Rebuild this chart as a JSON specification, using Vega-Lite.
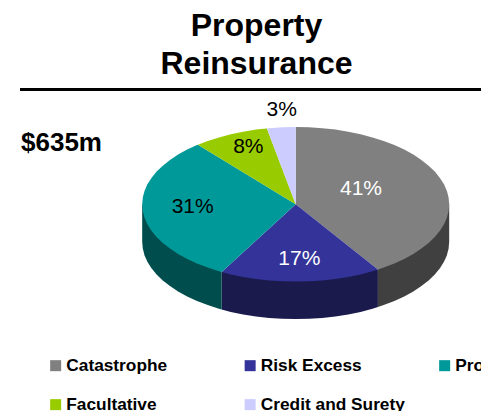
{"$schema":"https://vega.github.io/schema/vega-lite/v6.json","width":481,"height":411,"padding":0,"autosize":{"type":"none"},"background":"white",
"title":{"text":["Property","Reinsurance"],"font":"Liberation Sans","fontSize":32,"fontWeight":"bold","color":"black","lineHeight":38,"anchor":"middle","dx":16,"dy":110,"baseline":"alphabetic"},
"config":{"view":{"stroke":null}},
"datasets":{
"top":[
{"s":"Catastrophe","i":0,"x":295.7,"y":204.3},{"s":"Catastrophe","i":1,"x":295.7,"y":127.0},{"s":"Catastrophe","i":2,"x":309.1,"y":127.3},{"s":"Catastrophe","i":3,"x":322.3,"y":128.2},{"s":"Catastrophe","i":4,"x":335.4,"y":129.6},{"s":"Catastrophe","i":5,"x":348.2,"y":131.7},{"s":"Catastrophe","i":6,"x":360.6,"y":134.2},{"s":"Catastrophe","i":7,"x":372.45,"y":137.4},{"s":"Catastrophe","i":8,"x":383.7,"y":141.0},{"s":"Catastrophe","i":9,"x":394.4,"y":145.1},{"s":"Catastrophe","i":10,"x":404.2,"y":149.6},{"s":"Catastrophe","i":11,"x":413.3,"y":154.6},{"s":"Catastrophe","i":12,"x":421.4,"y":160.0},{"s":"Catastrophe","i":13,"x":428.6,"y":165.65},{"s":"Catastrophe","i":14,"x":434.8,"y":171.6},{"s":"Catastrophe","i":15,"x":439.9,"y":177.9},{"s":"Catastrophe","i":16,"x":444.0,"y":184.3},{"s":"Catastrophe","i":17,"x":446.9,"y":190.9},{"s":"Catastrophe","i":18,"x":448.6,"y":197.6},{"s":"Catastrophe","i":19,"x":449.2,"y":204.3},{"s":"Catastrophe","i":20,"x":448.6,"y":211.0},{"s":"Catastrophe","i":21,"x":446.9,"y":217.7},{"s":"Catastrophe","i":22,"x":444.0,"y":224.3},{"s":"Catastrophe","i":23,"x":439.9,"y":230.7},{"s":"Catastrophe","i":24,"x":434.8,"y":237.0},{"s":"Catastrophe","i":25,"x":428.6,"y":242.95},{"s":"Catastrophe","i":26,"x":421.4,"y":248.6},{"s":"Catastrophe","i":27,"x":413.3,"y":254.0},{"s":"Catastrophe","i":28,"x":404.2,"y":259.0},{"s":"Catastrophe","i":29,"x":394.4,"y":263.5},{"s":"Catastrophe","i":30,"x":383.7,"y":267.6},{"s":"Catastrophe","i":31,"x":377.9,"y":269.6},
{"s":"Risk Excess","i":0,"x":295.7,"y":204.3},{"s":"Risk Excess","i":1,"x":377.9,"y":269.6},{"s":"Risk Excess","i":2,"x":372.45,"y":271.25},{"s":"Risk Excess","i":3,"x":360.6,"y":274.4},{"s":"Risk Excess","i":4,"x":348.2,"y":276.9},{"s":"Risk Excess","i":5,"x":335.4,"y":279.0},{"s":"Risk Excess","i":6,"x":322.3,"y":280.4},{"s":"Risk Excess","i":7,"x":309.1,"y":281.3},{"s":"Risk Excess","i":8,"x":295.7,"y":281.6},{"s":"Risk Excess","i":9,"x":282.3,"y":281.3},{"s":"Risk Excess","i":10,"x":269.1,"y":280.4},{"s":"Risk Excess","i":11,"x":256.0,"y":279.0},{"s":"Risk Excess","i":12,"x":243.2,"y":276.9},{"s":"Risk Excess","i":13,"x":230.8,"y":274.4},{"s":"Risk Excess","i":14,"x":221.7,"y":272.0},
{"s":"Pro Rata","i":0,"x":295.7,"y":204.3},{"s":"Pro Rata","i":1,"x":221.7,"y":272.0},{"s":"Pro Rata","i":2,"x":218.95,"y":271.25},{"s":"Pro Rata","i":3,"x":207.7,"y":267.6},{"s":"Pro Rata","i":4,"x":197.0,"y":263.5},{"s":"Pro Rata","i":5,"x":187.2,"y":259.0},{"s":"Pro Rata","i":6,"x":178.1,"y":254.0},{"s":"Pro Rata","i":7,"x":170.0,"y":248.6},{"s":"Pro Rata","i":8,"x":162.8,"y":242.95},{"s":"Pro Rata","i":9,"x":156.6,"y":237.0},{"s":"Pro Rata","i":10,"x":151.5,"y":230.7},{"s":"Pro Rata","i":11,"x":147.4,"y":224.3},{"s":"Pro Rata","i":12,"x":144.5,"y":217.7},{"s":"Pro Rata","i":13,"x":142.8,"y":211.0},{"s":"Pro Rata","i":14,"x":142.2,"y":204.3},{"s":"Pro Rata","i":15,"x":142.8,"y":197.6},{"s":"Pro Rata","i":16,"x":144.5,"y":190.9},{"s":"Pro Rata","i":17,"x":147.4,"y":184.3},{"s":"Pro Rata","i":18,"x":151.5,"y":177.9},{"s":"Pro Rata","i":19,"x":156.6,"y":171.6},{"s":"Pro Rata","i":20,"x":162.8,"y":165.65},{"s":"Pro Rata","i":21,"x":170.0,"y":160.0},{"s":"Pro Rata","i":22,"x":178.1,"y":154.6},{"s":"Pro Rata","i":23,"x":187.2,"y":149.6},{"s":"Pro Rata","i":24,"x":197.0,"y":145.1},{"s":"Pro Rata","i":25,"x":197.9,"y":144.7},
{"s":"Facultative","i":0,"x":295.7,"y":204.3},{"s":"Facultative","i":1,"x":197.9,"y":144.7},{"s":"Facultative","i":2,"x":207.7,"y":141.0},{"s":"Facultative","i":3,"x":218.95,"y":137.4},{"s":"Facultative","i":4,"x":230.8,"y":134.2},{"s":"Facultative","i":5,"x":243.2,"y":131.7},{"s":"Facultative","i":6,"x":256.0,"y":129.6},{"s":"Facultative","i":7,"x":266.9,"y":128.4},
{"s":"Credit and Surety","i":0,"x":295.7,"y":204.3},{"s":"Credit and Surety","i":1,"x":266.9,"y":128.4},{"s":"Credit and Surety","i":2,"x":269.1,"y":128.2},{"s":"Credit and Surety","i":3,"x":282.3,"y":127.3},{"s":"Credit and Surety","i":4,"x":295.7,"y":127.0}],
"side":[
{"s":"Catastrophe","i":0,"x":449.2,"y":204.3},{"s":"Catastrophe","i":1,"x":449.2,"y":241.8},{"s":"Catastrophe","i":2,"x":448.6,"y":248.5},{"s":"Catastrophe","i":3,"x":446.9,"y":255.2},{"s":"Catastrophe","i":4,"x":444.0,"y":261.8},{"s":"Catastrophe","i":5,"x":439.9,"y":268.2},{"s":"Catastrophe","i":6,"x":434.8,"y":274.5},{"s":"Catastrophe","i":7,"x":428.6,"y":280.45},{"s":"Catastrophe","i":8,"x":421.4,"y":286.1},{"s":"Catastrophe","i":9,"x":413.3,"y":291.5},{"s":"Catastrophe","i":10,"x":404.2,"y":296.5},{"s":"Catastrophe","i":11,"x":394.4,"y":301.0},{"s":"Catastrophe","i":12,"x":383.7,"y":305.1},{"s":"Catastrophe","i":13,"x":377.9,"y":307.1},{"s":"Catastrophe","i":14,"x":377.9,"y":269.6},
{"s":"Risk Excess","i":0,"x":377.9,"y":269.6},{"s":"Risk Excess","i":1,"x":377.9,"y":307.1},{"s":"Risk Excess","i":2,"x":372.45,"y":308.75},{"s":"Risk Excess","i":3,"x":360.6,"y":311.9},{"s":"Risk Excess","i":4,"x":348.2,"y":314.4},{"s":"Risk Excess","i":5,"x":335.4,"y":316.5},{"s":"Risk Excess","i":6,"x":322.3,"y":317.9},{"s":"Risk Excess","i":7,"x":309.1,"y":318.8},{"s":"Risk Excess","i":8,"x":295.7,"y":319.1},{"s":"Risk Excess","i":9,"x":282.3,"y":318.8},{"s":"Risk Excess","i":10,"x":269.1,"y":317.9},{"s":"Risk Excess","i":11,"x":256.0,"y":316.5},{"s":"Risk Excess","i":12,"x":243.2,"y":314.4},{"s":"Risk Excess","i":13,"x":230.8,"y":311.9},{"s":"Risk Excess","i":14,"x":221.7,"y":309.5},{"s":"Risk Excess","i":15,"x":221.7,"y":272.0},
{"s":"Pro Rata","i":0,"x":221.7,"y":272.0},{"s":"Pro Rata","i":1,"x":221.7,"y":309.5},{"s":"Pro Rata","i":2,"x":218.95,"y":308.75},{"s":"Pro Rata","i":3,"x":207.7,"y":305.1},{"s":"Pro Rata","i":4,"x":197.0,"y":301.0},{"s":"Pro Rata","i":5,"x":187.2,"y":296.5},{"s":"Pro Rata","i":6,"x":178.1,"y":291.5},{"s":"Pro Rata","i":7,"x":170.0,"y":286.1},{"s":"Pro Rata","i":8,"x":162.8,"y":280.45},{"s":"Pro Rata","i":9,"x":156.6,"y":274.5},{"s":"Pro Rata","i":10,"x":151.5,"y":268.2},{"s":"Pro Rata","i":11,"x":147.4,"y":261.8},{"s":"Pro Rata","i":12,"x":144.5,"y":255.2},{"s":"Pro Rata","i":13,"x":142.8,"y":248.5},{"s":"Pro Rata","i":14,"x":142.2,"y":241.8},{"s":"Pro Rata","i":15,"x":142.2,"y":204.3}],
"labels":[
{"s":"Catastrophe","t":"41%","x":361,"y":189},{"s":"Risk Excess","t":"17%","x":299.3,"y":259},{"s":"Pro Rata","t":"31%","x":192.7,"y":207.3},{"s":"Facultative","t":"8%","x":248.3,"y":146.7},{"s":"Credit and Surety","t":"3%","x":281.7,"y":110}]
},
"resolve":{"scale":{"color":"independent"}},
"layer":[
{"data":{"values":[{"x":20,"x2":481,"y":89.5}]},"mark":{"type":"rule","color":"black","strokeWidth":3},"encoding":{"x":{"field":"x","type":"quantitative","scale":{"domain":[0,481]},"axis":null},"x2":{"field":"x2"},"y":{"field":"y","type":"quantitative","scale":{"domain":[411,0]},"axis":null}}},
{"data":{"name":"side"},"mark":{"type":"line","filled":true,"strokeWidth":0},"encoding":{"x":{"field":"x","type":"quantitative","scale":{"domain":[0,481]},"axis":null},"y":{"field":"y","type":"quantitative","scale":{"domain":[411,0]},"axis":null},"order":{"field":"i"},"color":{"field":"s","type":"nominal","legend":null,"scale":{"domain":["Catastrophe","Risk Excess","Pro Rata"],"range":["#404040","#1a1a4d","#004d4d"]}}}},
{"data":{"name":"top"},"mark":{"type":"line","filled":true,"strokeWidth":0},"encoding":{"x":{"field":"x","type":"quantitative","scale":{"domain":[0,481]},"axis":null},"y":{"field":"y","type":"quantitative","scale":{"domain":[411,0]},"axis":null},"order":{"field":"i"},"color":{"field":"s","type":"nominal","scale":{"domain":["Catastrophe","Risk Excess","Pro Rata","Facultative","Credit and Surety"],"range":["#808080","#333399","#009999","#99cc00","#ccccff"]},"legend":{"title":null,"orient":"none","legendX":47,"legendY":357,"columns":3,"direction":"horizontal","gridAlign":"all","symbolType":"square","symbolSize":121,"symbolStrokeWidth":0,"labelFont":"Liberation Sans","labelFontSize":17.3,"labelFontWeight":"bold","labelColor":"black","labelOffset":2,"columnPadding":30.5,"rowPadding":21,"padding":0,"labelLimit":300}}}},
{"data":{"name":"labels"},"mark":{"type":"text","font":"Liberation Sans","fontSize":21,"baseline":"middle","align":"center"},"encoding":{"x":{"field":"x","type":"quantitative","scale":{"domain":[0,481]},"axis":null},"y":{"field":"y","type":"quantitative","scale":{"domain":[411,0]},"axis":null},"text":{"field":"t"},"color":{"condition":{"test":"datum.s==='Catastrophe'||datum.s==='Risk Excess'","value":"white"},"value":"black"}}},
{"data":{"values":[{"t":"$635m","x":21,"y":143}]},"mark":{"type":"text","font":"Liberation Sans","fontSize":26,"fontWeight":"bold","baseline":"middle","align":"left","color":"black"},"encoding":{"x":{"field":"x","type":"quantitative","scale":{"domain":[0,481]},"axis":null},"y":{"field":"y","type":"quantitative","scale":{"domain":[411,0]},"axis":null},"text":{"field":"t"}}}
]}
